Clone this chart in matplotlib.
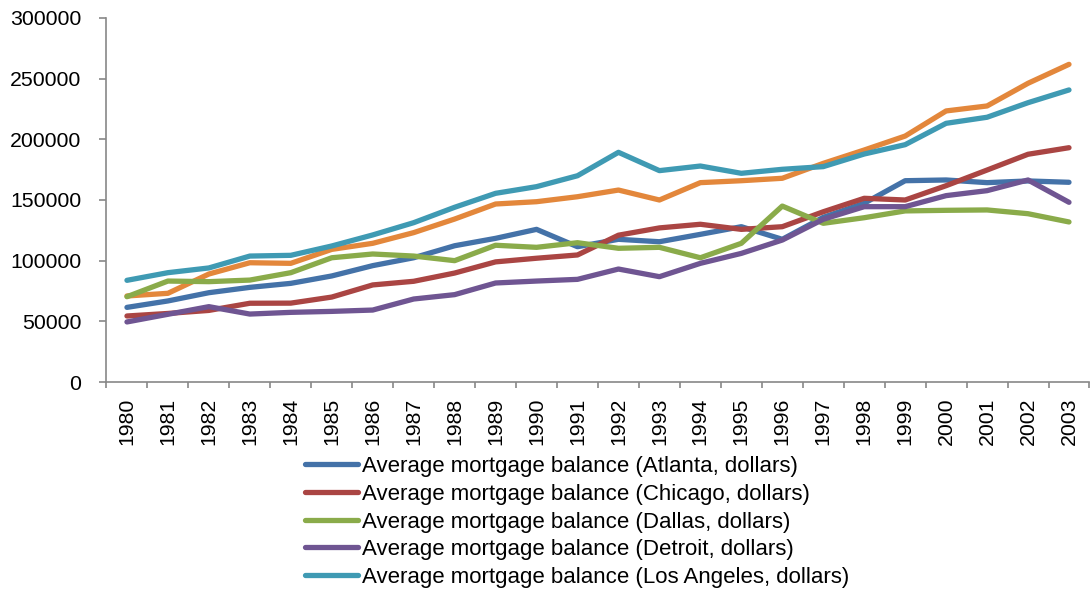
import numpy as np
import matplotlib.pyplot as plt

plt.rcParams['font.family'] = ['Liberation Sans', 'DejaVu Sans']

years = [str(y) for y in range(1980, 2004)]

atlanta = [61500, 66800, 73600, 78000, 81300, 87400, 95900, 102400, 112300, 118400,
           125800, 111500, 117600, 115600, 121700, 128000, 117600, 135700, 147300, 165900,
           166500, 164300, 165700, 164600]
chicago = [54400, 56500, 59000, 64900, 65000, 70000, 80000, 83000, 89800, 99000,
           102000, 104700, 121000, 127000, 130000, 125800, 128000, 140300, 151400, 150000,
           161800, 174700, 187700, 193100]
dallas = [70300, 83200, 82700, 84000, 90100, 102400, 105500, 103800, 100000, 112700,
          111000, 114800, 110200, 111000, 102400, 114300, 145000, 130800, 135400, 141000,
          141500, 141800, 138700, 131900]
detroit = [49500, 55800, 62100, 56000, 57400, 58200, 59300, 68400, 72000, 81600,
           83200, 84600, 93100, 86800, 97800, 106000, 117000, 134100, 144500, 144500,
           153600, 157700, 166500, 148100]
los_angeles = [83800, 90100, 94000, 103800, 104400, 112100, 121200, 131300, 144000, 155500,
               161000, 170000, 189300, 174200, 178000, 172000, 175300, 177500, 187900, 195600,
               213200, 218200, 230200, 240700]
# sixth series, its legend entry is cut off in the original
orange = [70900, 73100, 89000, 98300, 97800, 109300, 114300, 123100, 134300, 146700,
          148600, 152700, 158200, 150000, 164300, 165900, 167900, 180200, 191200, 202700,
          223400, 227500, 246200, 261800]

labels = [
    "Average mortgage balance (Atlanta, dollars)",
    "Average mortgage balance (Chicago, dollars)",
    "Average mortgage balance (Dallas, dollars)",
    "Average mortgage balance (Detroit, dollars)",
    "Average mortgage balance (Los Angeles, dollars)",
]
colors = ["#4472A8", "#AA4543", "#8AAB4A", "#6F5592", "#3F9AB3", "#E3873B"]

fig = plt.figure(figsize=(10.91, 5.94), dpi=100)
ax = fig.add_axes([0.0976, 0.3569, 0.901, 0.6128])

x = np.arange(len(years))
series = [atlanta, chicago, dallas, detroit, los_angeles]
lines = []
for vals, lab, c in zip(series, labels, colors):
    ln, = ax.plot(x, vals, color=c, lw=3.8, solid_capstyle='round',
                  solid_joinstyle='round', label=lab)
    lines.append(ln)
ax.plot(x, orange, color=colors[5], lw=3.8, solid_capstyle='round',
        solid_joinstyle='round', zorder=1.9)

ax.set_xlim(-0.5, len(years) - 0.5)
ax.set_ylim(0, 300000)
ax.set_yticks(np.arange(0, 300001, 50000))
ax.set_yticklabels([str(v) for v in range(0, 300001, 50000)])
ax.set_xticks(x)
ax.set_xticklabels(years, rotation=90)
ax.set_xticks(np.arange(-0.5, len(years), 1), minor=True)
ax.tick_params(axis='x', which='major', length=0, pad=11.5, labelsize=15.3)
ax.tick_params(axis='x', which='minor', length=4.3, color='#888888', width=1.2)
ax.tick_params(axis='y', length=5, color='#888888', width=1.2, pad=13, labelsize=15.3)

for s in ['top', 'right']:
    ax.spines[s].set_visible(False)
for s in ['left', 'bottom']:
    ax.spines[s].set_color('#888888')
    ax.spines[s].set_linewidth(1.2)

fig.legend(handles=lines, loc='upper left', bbox_to_anchor=(0.2796, 0.232),
           frameon=False, fontsize=16, handlelength=2.4, handletextpad=0.18,
           labelspacing=0.3, borderpad=0, borderaxespad=0)

fig.savefig("out.png", dpi=100)
